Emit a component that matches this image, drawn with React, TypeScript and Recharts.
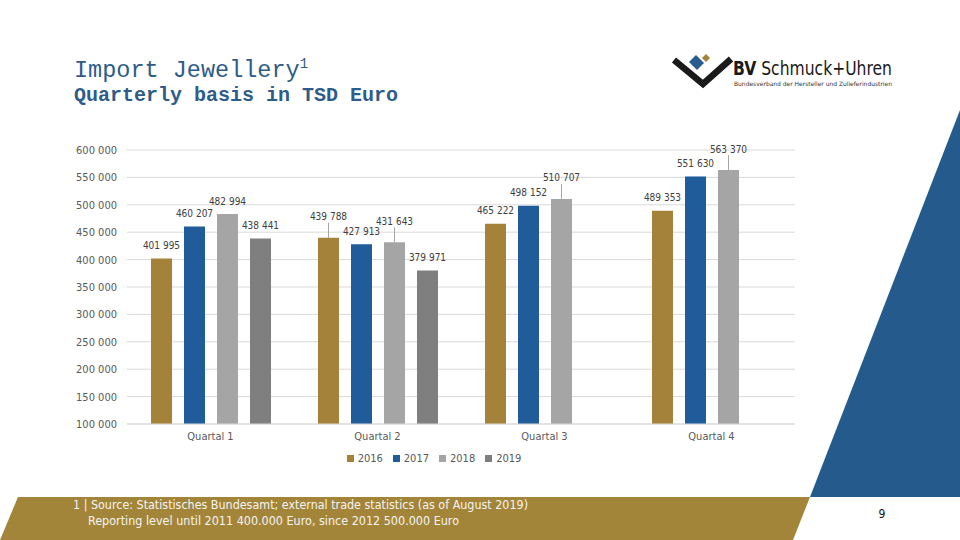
import { BarChart, Bar, XAxis, YAxis, CartesianGrid, Legend, LabelList } from 'recharts'

const quarters = ['Quartal 1', 'Quartal 2', 'Quartal 3', 'Quartal 4']
const years = ['2016', '2017', '2018', '2019']
const v2016 = [401995, 439788, 465222, 489353]
const v2017 = [460207, 427913, 498152, 551630]
const v2018 = [482994, 431643, 510707, 563370]
const v2019 = [438441, 379971, null, null]
const yTicks = [100000, 150000, 200000, 250000, 300000, 350000, 400000, 450000, 500000, 550000, 600000]

// labels that Excel pushed up and tied back to the bar with a leader line
const leaderLabels = ['2016|Quartal 2', '2018|Quartal 2', '2018|Quartal 3', '2018|Quartal 4']

const colors: Record<string, string> = {
  '2016': '#a5823a',
  '2017': '#1f5c99',
  '2018': '#a5a5a5',
  '2019': '#7f7f7f',
}

const seriesValues = [v2016, v2017, v2018, v2019]
const data = quarters.map((q, i) => {
  const row: Record<string, string | number | null> = { quarter: q }
  years.forEach((y, k) => { row[y] = seriesValues[k][i] })
  return row
})

const narrow = '"DejaVu Sans Condensed", "Liberation Sans", sans-serif'
const mono = '"Liberation Mono", "DejaVu Sans Mono", monospace'
const fmt = (n: number) => Math.round(n).toLocaleString('en-US').replace(/,/g, ' ')

const renderLabel = (year: string) => (props: any) => {
  const { value, index } = props
  if (value == null || value === '') return null
  const vb = props.viewBox ?? {}
  const x = props.x ?? vb.x
  const y = props.y ?? vb.y
  const width = props.width ?? vb.width
  const quarter = props.payload?.quarter ?? quarters[index]
  const leader = leaderLabels.includes(`${year}|${quarter}`)
  const cx = x + width / 2
  const lift = leader ? 21 : 13
  return (
    <g>
      {leader && <line x1={cx} x2={cx} y1={y - lift + 6} y2={y} stroke="#a6a6a6" strokeWidth={1} />}
      <text x={cx} y={y - lift} dy="0.35em" textAnchor="middle" fill="#404040" fontSize={10} fontFamily={narrow}>
        {fmt(Number(value))}
      </text>
    </g>
  )
}

function LegendRow({ payload }: any) {
  return (
    <div style={{ display: 'flex', justifyContent: 'center', gap: 10, fontFamily: narrow, fontSize: 11, color: '#595959' }}>
      {(payload ?? []).map((p: any) => (
        <span key={p.value} style={{ display: 'flex', alignItems: 'center', gap: 4 }}>
          <span style={{ width: 7, height: 7, background: p.color, display: 'inline-block' }} />
          {p.value}
        </span>
      ))}
    </div>
  )
}

function Logo() {
  return (
    <g>
      <polyline points="674,60 703,84 731,59" fill="none" stroke="#1a1a1a" strokeWidth={6.5} strokeLinejoin="miter" />
      <polygon points="696,55 704,63 697,70 689,62" fill="#285d8f" />
      <polygon points="706,54 710,58 706,62 702,58" fill="#a5823a" />
      <text x={733} y={75} fontFamily={narrow} fontSize={19} fill="#1a1a1a" textLength={159} lengthAdjust="spacingAndGlyphs">
        <tspan fontWeight="bold">BV</tspan> Schmuck+Uhren
      </text>
      <text x={734} y={86} fontFamily={narrow} fontSize={6} fill="#333" textLength={158} lengthAdjust="spacingAndGlyphs">
        Bundesverband der Hersteller und Zulieferindustrien
      </text>
    </g>
  )
}

export default function App() {
  return (
    <div style={{ position: 'absolute', left: 0, top: 0, width: 960, height: 540, background: '#fff', overflow: 'hidden' }}>
      <svg width={960} height={540} style={{ position: 'absolute', left: 0, top: 0 }}>
        <polygon points="810,497 960,110 960,497" fill="#255a8c" />
        <polygon points="18,497 810,497 793,540 0,540" fill="#a38539" />
        <text x={74} y={77} fontFamily={mono} fontSize={23.5} fill="#2e5c8a">
          Import Jewellery<tspan fontSize={14} dy={-9}>1</tspan>
        </text>
        <text x={74} y={101} fontFamily={mono} fontSize={20} fontWeight="bold" fill="#2e5c8a">
          Quarterly basis in TSD Euro
        </text>
        <Logo />
        <text x={73} y={509} fontFamily={narrow} fontSize={13} fill="#f4f4f4" textLength={455} lengthAdjust="spacingAndGlyphs">
          1 | Source: Statistisches Bundesamt; external trade statistics (as of August 2019)
        </text>
        <text x={88} y={525} fontFamily={narrow} fontSize={13} fill="#f4f4f4" textLength={371} lengthAdjust="spacingAndGlyphs">
          Reporting level until 2011 400.000 Euro, since 2012 500.000 Euro
        </text>
        <text x={882} y={518} fontFamily={narrow} fontSize={12} fill="#111" textAnchor="middle">9</text>
      </svg>
      <div style={{ position: 'absolute', left: 0, top: 0 }}>
        <BarChart
          width={960}
          height={540}
          data={data}
          margin={{ top: 150, right: 165, bottom: 86, left: 0 }}
          barSize={21}
          barGap={12}
        >
          <CartesianGrid vertical={false} stroke="#d9d9d9" />
          <XAxis
            dataKey="quarter"
            height={30}
            axisLine={{ stroke: '#d9d9d9' }}
            tickLine={false}
            tick={{ fill: '#595959', fontSize: 11, fontFamily: narrow }}
          />
          <YAxis
            width={127}
            domain={[100000, 600000]}
            ticks={yTicks}
            interval={0}
            axisLine={false}
            tickLine={false}
            tickMargin={4}
            tickFormatter={fmt}
            tick={{ fill: '#595959', fontSize: 11, fontFamily: narrow }}
          />
          <Legend
            layout="horizontal"
            verticalAlign="middle"
            align="center"
            wrapperStyle={{ top: 452, left: 0, width: 868 }}
            content={<LegendRow />}
          />
          {years.map((y) => (
            <Bar key={y} dataKey={y} name={y} fill={colors[y]} isAnimationActive={false}>
              <LabelList dataKey={y} content={renderLabel(y)} />
            </Bar>
          ))}
        </BarChart>
      </div>
    </div>
  )
}
